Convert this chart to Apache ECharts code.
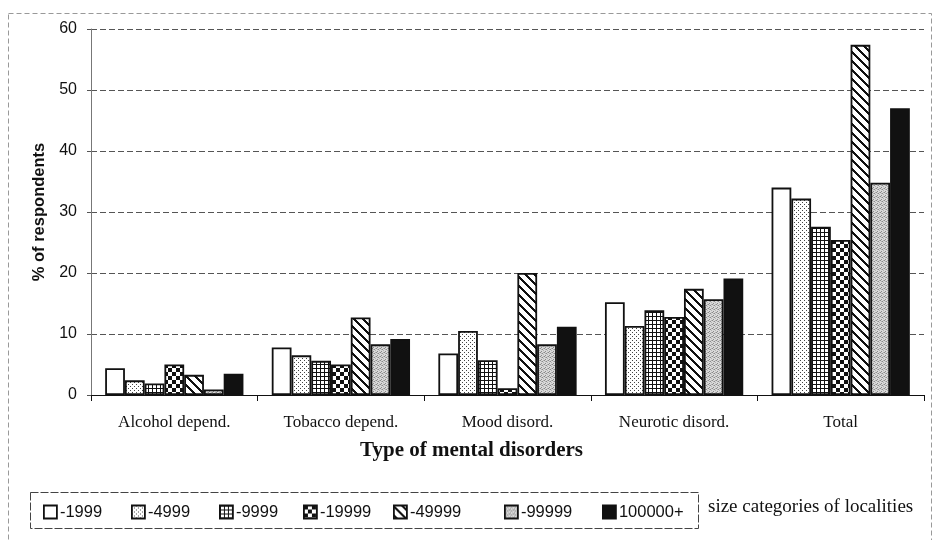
<!DOCTYPE html>
<html><head><meta charset="utf-8">
<script src="https://cdn.jsdelivr.net/npm/echarts@6/dist/echarts.min.js"></script>
<style>html,body{margin:0;padding:0;background:#fff}#c{width:935px;height:540px}</style>
</head><body><div id="c"></div>
<script>
const categories = ['Alcohol depend.', 'Tobacco depend.', 'Mood disord.', 'Neurotic disord.', 'Total'];
const seriesNames = ['-1999', '-4999', '-9999', '-19999', '-49999', '-99999', '100000+'];
const s1999   = [4.4, 7.8, 6.8, 15.2, 34.0];
const s4999   = [2.4, 6.5, 10.5, 11.3, 32.2];
const s9999   = [1.9, 5.6, 5.7, 13.9, 27.6];
const s19999  = [5.0, 5.0, 1.1, 12.8, 25.4];
const s49999  = [3.3, 12.7, 20.0, 17.4, 57.4];
const s99999  = [0.9, 8.3, 8.3, 15.7, 34.8];
const s100000 = [3.5, 9.2, 11.2, 19.1, 47.0];
const yTicks = [0, 10, 20, 30, 40, 50, 60];
const xTitle = 'Type of mental disorders';
const yTitle = '% of respondents';
const legendNote = 'size categories of localities';

const values = [s1999, s4999, s9999, s19999, s49999, s99999, s100000];

function pat(size, fn, bg) {
  const c = document.createElement('canvas');
  c.width = c.height = size;
  const g = c.getContext('2d');
  g.fillStyle = bg || '#fff';
  g.fillRect(0, 0, size, size);
  fn(g, size);
  return { image: c, repeat: 'repeat' };
}
const fills = [
  '#ffffff',
  pat(4, (g) => { g.fillStyle = '#444'; g.fillRect(0, 0, 1, 1); g.fillRect(2, 2, 1, 1); }),
  pat(4, (g) => { g.fillStyle = '#111'; g.fillRect(0, 0, 4, 1); g.fillRect(0, 0, 1, 4); }),
  pat(8, (g) => { g.fillStyle = '#111'; g.fillRect(0, 0, 4, 4); g.fillRect(4, 4, 4, 4); }),
  pat(9, (g, s) => { g.fillStyle = '#111'; for (let x = 0; x < s; x++) for (let y = 0; y < s; y++) { if (((y - x) % s + s) % s < 3) g.fillRect(x, y, 1, 1); } }),
  pat(4, (g) => { g.fillStyle = '#8a8a8a'; g.fillRect(0, 0, 1, 1); g.fillRect(2, 1, 1, 1); g.fillRect(1, 3, 1, 1); g.fillStyle = '#b0b0b0'; g.fillRect(3, 2, 1, 1); g.fillRect(1, 1, 1, 1); g.fillRect(3, 0, 1, 1); }, '#d8d8d8'),
  '#111111'
];

const legendLefts = [43, 131, 219, 303, 393, 504, 602];

const chart = echarts.init(document.getElementById('c'), null, { renderer: 'canvas' });
const option = {
  animation: false,
  backgroundColor: '#fff',
  grid: { left: 91, right: 11, top: 29, bottom: 145, containLabel: false },
  xAxis: {
    type: 'category',
    data: categories,
    axisLine: { lineStyle: { color: '#111', width: 1.2 } },
    axisTick: { show: true, length: 6, lineStyle: { color: '#111' } },
    axisLabel: { margin: 19, fontFamily: 'Liberation Serif', fontSize: 17, color: '#111' }
  },
  yAxis: {
    type: 'value', min: 0, max: 60, interval: 10,
    name: yTitle, nameLocation: 'middle', nameGap: 42, nameRotate: 90,
    nameTextStyle: { fontFamily: 'Liberation Sans', fontWeight: 'bold', fontSize: 16.5, color: '#111' },
    axisLine: { show: true, lineStyle: { color: '#777' } },
    axisTick: { show: true, length: 4, lineStyle: { color: '#555' } },
    axisLabel: { margin: 14, fontFamily: 'Liberation Sans', fontSize: 16, color: '#111', formatter: (v) => yTicks.includes(v) ? String(v) : '' },
    splitLine: { show: true, lineStyle: { color: '#555', type: [6, 3], width: 1 } }
  },
  legend: seriesNames.map((n, i) => ({
    data: [n], left: legendLefts[i], top: 503.5, orient: 'horizontal', padding: 0,
    icon: 'rect', itemWidth: 13, itemHeight: 13, itemGap: 0,
    textStyle: { fontFamily: 'Liberation Sans', fontSize: 16.5, color: '#111', padding: [0, 0, 0, -2] },
    itemStyle: { borderColor: '#111', borderWidth: 1.8 }
  })),
  graphic: [
    { type: 'rect', shape: { x: 8.5, y: 13.5, width: 923, height: 540 }, style: { fill: null, stroke: '#999', lineWidth: 1, lineDash: [5, 3] }, silent: true },
    { type: 'rect', shape: { x: 30.5, y: 492.5, width: 668, height: 36 }, style: { fill: null, stroke: '#444', lineWidth: 1, lineDash: [8, 2] }, silent: true },
    { type: 'text', left: 360, top: 440, style: { text: xTitle, font: 'bold 21px "Liberation Serif"', fill: '#111' } },
    { type: 'text', left: 708, top: 498, style: { text: legendNote, font: '19px "Liberation Serif"', fill: '#111' } }
  ],
  series: seriesNames.map((n, i) => ({
    name: n, type: 'bar', data: values[i],
    barGap: '0%', barCategoryGap: '17%',
    itemStyle: { color: fills[i], borderColor: '#111', borderWidth: 1.8 }
  }))
};
chart.setOption(option);
</script></body></html>
